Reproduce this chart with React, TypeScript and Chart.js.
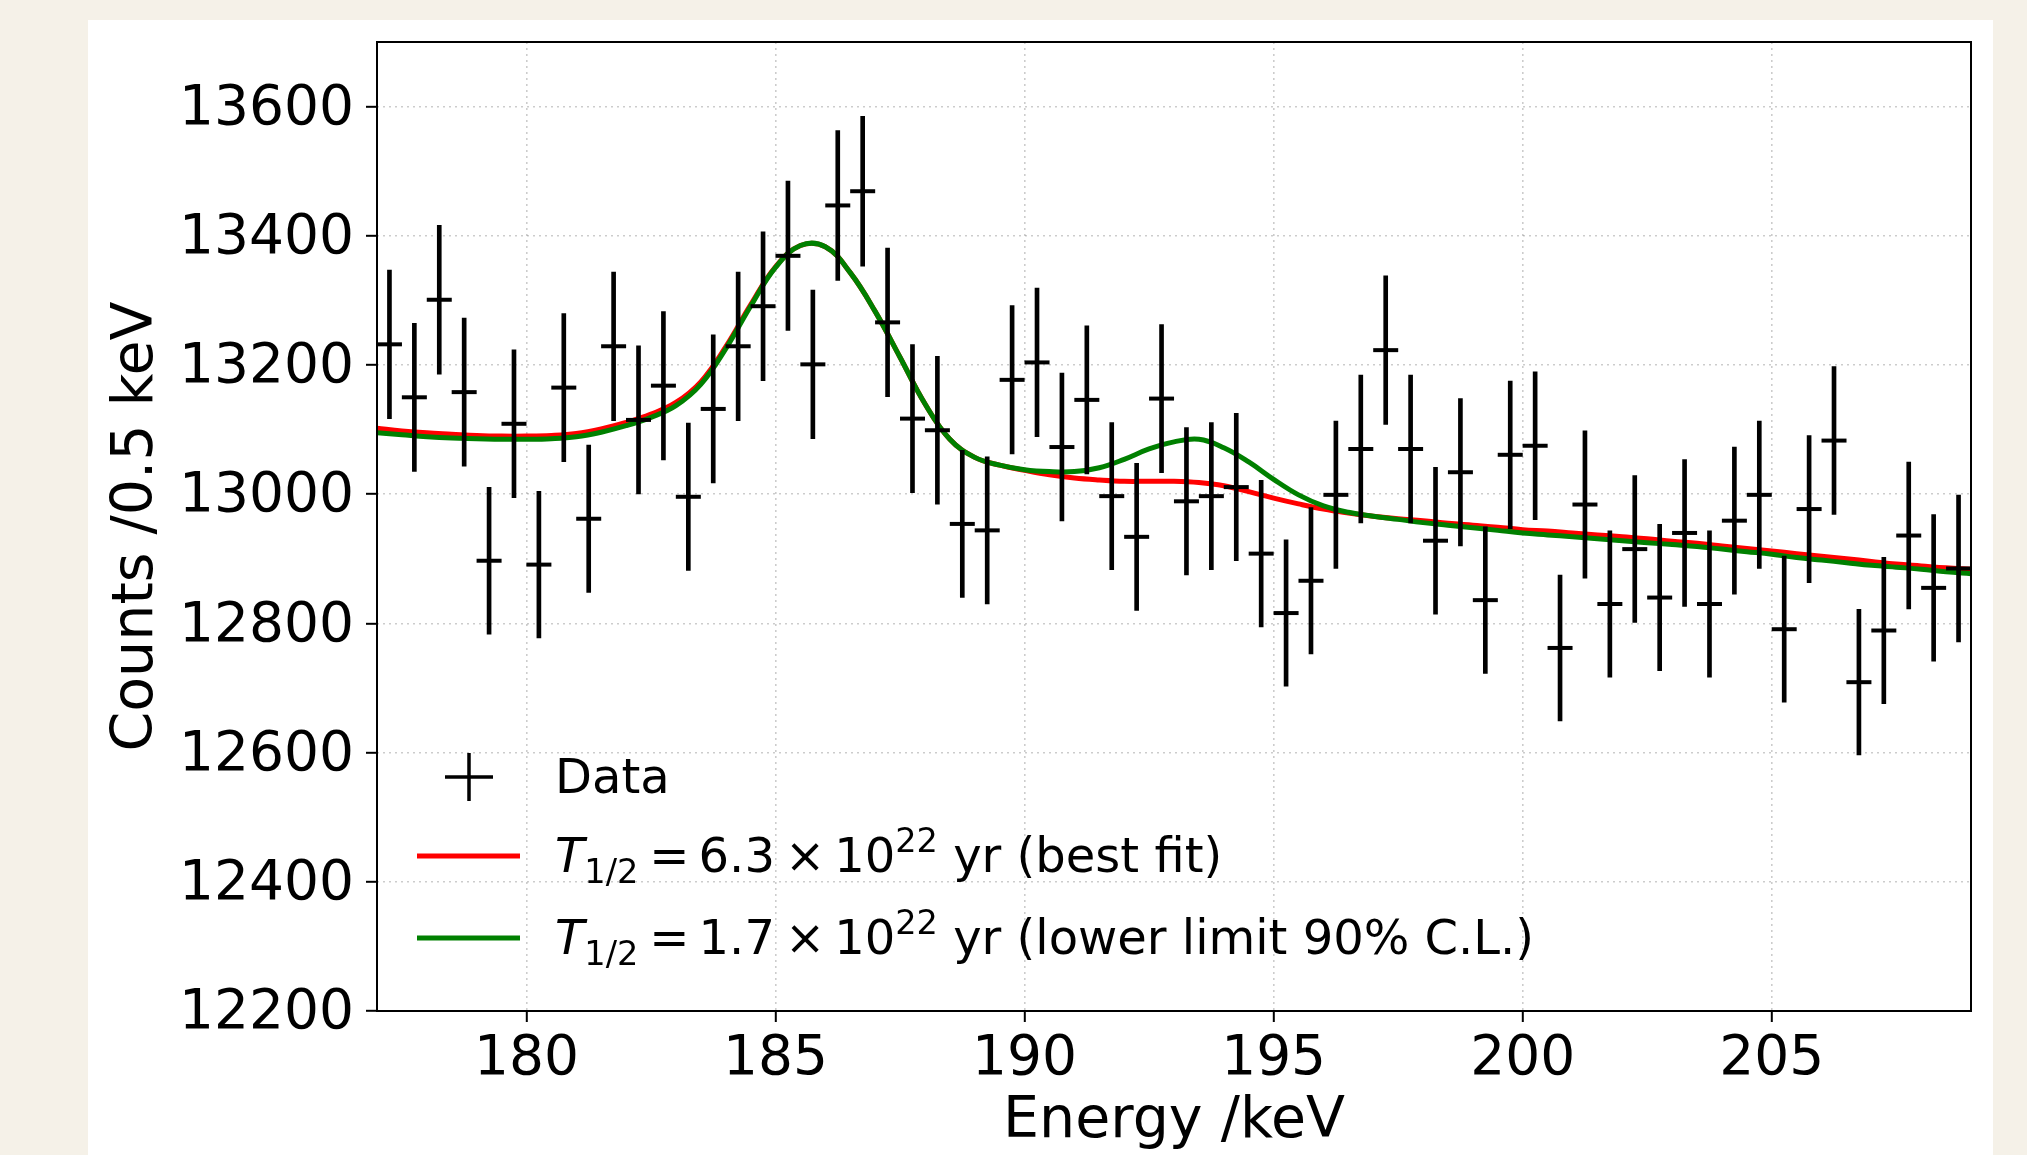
import React, { useEffect, useRef } from "react";
import { Chart, registerables } from "chart.js";

Chart.register(...registerables);

// ---------- data ----------
const binCenters = [
  177.25, 177.75, 178.25, 178.75, 179.25, 179.75, 180.25, 180.75, 181.25, 181.75,
  182.25, 182.75, 183.25, 183.75, 184.25, 184.75, 185.25, 185.75, 186.25, 186.75,
  187.25, 187.75, 188.25, 188.75, 189.25, 189.75, 190.25, 190.75, 191.25, 191.75,
  192.25, 192.75, 193.25, 193.75, 194.25, 194.75, 195.25, 195.75, 196.25, 196.75,
  197.25, 197.75, 198.25, 198.75, 199.25, 199.75, 200.25, 200.75, 201.25, 201.75,
  202.25, 202.75, 203.25, 203.75, 204.25, 204.75, 205.25, 205.75, 206.25, 206.75,
  207.25, 207.75, 208.25, 208.75,
];
const counts = [
  13232, 13150, 13301, 13158, 12897, 13109, 12891, 13165, 12962, 13229,
  13115, 13168, 12996, 13132, 13229, 13291, 13369, 13201, 13447, 13469,
  13266, 13117, 13099, 12954, 12944, 13177, 13204, 13073, 13146, 12997,
  12934, 13148, 12989, 12997, 13011, 12908, 12816, 12866, 12999, 13070,
  13223, 13070, 12928, 13034, 12836, 13061, 13075, 12762, 12984, 12830,
  12915, 12840, 12940, 12830, 12959, 12999, 12791, 12977, 13083, 12709,
  12789, 12936, 12855, 12885,
];
// Poisson uncertainty of each bin (√N)
const countErrors = counts.map((c) => Math.sqrt(c));

const fitEnergy = [
  177, 177.5, 178, 178.5, 179, 179.5, 180, 180.5, 181, 181.5,
  182, 182.5, 183, 183.5, 184, 184.5, 185, 185.5, 186, 186.5,
  187, 187.5, 188, 188.5, 189, 189.5, 190, 190.5, 191, 191.5,
  192, 192.5, 193, 193.5, 194, 194.5, 195, 195.5, 196, 196.5,
  197, 197.5, 198, 198.5, 199, 199.5, 200, 200.5, 201, 201.5,
  202, 202.5, 203, 203.5, 204, 204.5, 205, 205.5, 206, 206.5,
  207, 207.5, 208, 208.5, 209,
];
const fitBest = [
  13102, 13098, 13095, 13093, 13091, 13090, 13090, 13091, 13094, 13101,
  13111, 13124, 13142, 13174, 13228, 13293, 13352, 13385, 13383, 13343,
  13283, 13212, 13140, 13085, 13057, 13045, 13037, 13030, 13025, 13022,
  13020, 13020, 13020, 13018, 13013, 13004, 12994, 12985, 12977, 12971,
  12966, 12962, 12959, 12955, 12952, 12949, 12945, 12943, 12940, 12937,
  12934, 12931, 12927, 12924, 12920, 12916, 12912, 12908, 12904, 12900,
  12896, 12892, 12889, 12886, 12884,
];
const fitLimit = [
  13095, 13092, 13089, 13087, 13086, 13085, 13085, 13086, 13089, 13096,
  13106, 13119, 13137, 13170, 13225, 13291, 13351, 13385, 13383, 13343,
  13283, 13212, 13140, 13085, 13057, 13045, 13038, 13035, 13035, 13041,
  13054, 13070, 13081, 13085, 13072, 13050, 13023, 12999, 12982, 12972,
  12966, 12961, 12956, 12952, 12948, 12944, 12940, 12937, 12934, 12931,
  12928, 12925, 12922, 12919, 12915, 12911, 12907, 12902, 12898, 12894,
  12890, 12887, 12884, 12880, 12877,
];

const xTicks = [180, 185, 190, 195, 200, 205];
const yTicks = [12200, 12400, 12600, 12800, 13000, 13200, 13400, 13600];
const xRange = [177, 209];
const yRange = [12200, 13700];

const xTitle = "Energy /keV";
const yTitle = "Counts /0.5 keV";
const legendDataLabel = "Data";
const legendBest = { value: "6.3", exponent: "22", note: " yr (best fit)" };
const legendLimit = { value: "1.7", exponent: "22", note: " yr (lower limit 90% C.L.)" };

// ---------- styling ----------
const FAMILY = "'DejaVu Sans', sans-serif";
const RED = "#ff0000";
const GREEN = "#008000";

Chart.defaults.font.family = FAMILY;
Chart.defaults.color = "#000";

const framePlugin = {
  id: "frame",
  afterDatasetsDraw(chart: any) {
    const { ctx, chartArea } = chart;
    ctx.save();
    ctx.strokeStyle = "#000";
    ctx.lineWidth = 2;
    ctx.setLineDash([]);
    ctx.strokeRect(chartArea.left, chartArea.top, chartArea.right - chartArea.left, chartArea.bottom - chartArea.top);
    ctx.restore();
  },
};

function drawHalfLife(ctx: CanvasRenderingContext2D, x: number, baseline: number, entry: { value: string; exponent: string; note: string }) {
  const F = 48;
  const S = 33.6;
  let cx = x;
  ctx.font = `italic ${F}px ${FAMILY}`;
  ctx.fillText("T", cx, baseline);
  cx += ctx.measureText("T").width;
  ctx.font = `${S}px ${FAMILY}`;
  ctx.fillText("1/2", cx, baseline + 11);
  cx += ctx.measureText("1/2").width + 11;
  ctx.font = `${F}px ${FAMILY}`;
  ctx.fillText("=", cx, baseline);
  cx += ctx.measureText("=").width + 9;
  ctx.fillText(entry.value, cx, baseline);
  cx += ctx.measureText(entry.value).width + 10;
  ctx.fillText("\u00d7", cx, baseline);
  cx += ctx.measureText("\u00d7").width + 9;
  ctx.fillText("10", cx, baseline);
  cx += ctx.measureText("10").width;
  ctx.font = `${S}px ${FAMILY}`;
  ctx.fillText(entry.exponent, cx, baseline - 20);
  cx += ctx.measureText(entry.exponent).width;
  ctx.font = `${F}px ${FAMILY}`;
  ctx.fillText(entry.note, cx, baseline);
}

const legendPlugin = {
  id: "mplLegend",
  afterDraw(chart: any) {
    const { ctx, chartArea } = chart;
    const left = chartArea.left;
    const bottom = chartArea.bottom;
    const textX = left + 178;
    const rows = [bottom - 234, bottom - 155, bottom - 73];
    const textDy = 15.5;
    ctx.save();
    ctx.fillStyle = "#000";
    ctx.textAlign = "left";
    ctx.textBaseline = "alphabetic";
    ctx.setLineDash([]);
    // Data marker: error-bar cross
    const mx = left + 92;
    ctx.strokeStyle = "#000";
    ctx.lineWidth = 3.5;
    ctx.beginPath();
    ctx.moveTo(mx - 24, rows[0]);
    ctx.lineTo(mx + 24, rows[0]);
    ctx.moveTo(mx, rows[0] - 24);
    ctx.lineTo(mx, rows[0] + 24);
    ctx.stroke();
    ctx.font = `48px ${FAMILY}`;
    ctx.fillText(legendDataLabel, textX, rows[0] + textDy);
    // fit lines
    ctx.lineWidth = 5;
    ctx.strokeStyle = RED;
    ctx.beginPath();
    ctx.moveTo(left + 40, rows[1]);
    ctx.lineTo(left + 143, rows[1]);
    ctx.stroke();
    drawHalfLife(ctx, textX, rows[1] + textDy, legendBest);
    ctx.strokeStyle = GREEN;
    ctx.beginPath();
    ctx.moveTo(left + 40, rows[2]);
    ctx.lineTo(left + 143, rows[2]);
    ctx.stroke();
    drawHalfLife(ctx, textX, rows[2] + textDy, legendLimit);
    ctx.restore();
  },
};

const gridStyle = {
  display: true,
  drawOnChartArea: true,
  drawTicks: true,
  color: "rgba(0,0,0,0.2)",
  lineWidth: 1.6,
  tickLength: 11,
  tickColor: "#000",
  tickWidth: 2,
  tickBorderDash: [],
  offset: false,
};
const borderStyle = { display: false, dash: [2, 4], dashOffset: 0 };

export default function App() {
  const canvasRef = useRef<HTMLCanvasElement>(null);

  useEffect(() => {
    const canvas = canvasRef.current;
    if (!canvas) return;

    const errorBars = binCenters.map((x, i) => ({ x, y: [counts[i] - countErrors[i], counts[i] + countErrors[i]] }));
    const centers = binCenters.map((x, i) => ({ x, y: counts[i] }));
    const bestLine = fitEnergy.map((x, i) => ({ x, y: fitBest[i] }));
    const limitLine = fitEnergy.map((x, i) => ({ x, y: fitLimit[i] }));

    const chart = new Chart(canvas, {
      type: "line",
      data: {
        datasets: [
          {
            type: "line",
            label: "best fit",
            data: bestLine,
            borderColor: RED,
            borderWidth: 5,
            pointRadius: 0,
            fill: false,
            tension: 0.4,
            order: 3,
          } as any,
          {
            type: "line",
            label: "lower limit",
            data: limitLine,
            borderColor: GREEN,
            borderWidth: 5,
            pointRadius: 0,
            fill: false,
            tension: 0.4,
            order: 2,
          } as any,
          {
            type: "bar",
            label: "Data error",
            data: errorBars,
            backgroundColor: "#000",
            borderWidth: 0,
            barThickness: 4,
            order: 1,
          } as any,
          {
            type: "line",
            label: "Data",
            data: centers,
            showLine: false,
            pointStyle: "line",
            pointRadius: 12.5,
            pointBorderWidth: 4,
            pointBorderColor: "#000",
            pointBackgroundColor: "#000",
            order: 0,
          } as any,
        ],
      },
      options: {
        animation: false,
        responsive: false,
        devicePixelRatio: 1,
        events: [],
        layout: { padding: { left: 0, top: 42, right: 56, bottom: 0 }, autoPadding: false } as any,
        plugins: { legend: { display: false }, tooltip: { enabled: false } },
        scales: {
          x: {
            type: "linear",
            min: xRange[0],
            max: xRange[1],
            offset: false,
            afterBuildTicks: (scale: any) => {
              scale.ticks = xTicks.map((v) => ({ value: v }));
            },
            afterFit: (scale: any) => {
              scale.height = 144;
            },
            grid: gridStyle as any,
            border: borderStyle as any,
            ticks: {
              autoSkip: false,
              maxRotation: 0,
              padding: 4.5,
              color: "#000",
              font: { size: 55, family: FAMILY },
              callback: (v: any) => String(v),
            },
            title: {
              display: true,
              text: xTitle,
              color: "#000",
              font: { size: 57, family: FAMILY, lineHeight: 1 },
              padding: { top: 0, bottom: 4.5 },
            },
          },
          y: {
            type: "linear",
            min: yRange[0],
            max: yRange[1],
            afterBuildTicks: (scale: any) => {
              scale.ticks = yTicks.map((v) => ({ value: v }));
            },
            afterFit: (scale: any) => {
              scale.width = 377;
            },
            grid: gridStyle as any,
            border: borderStyle as any,
            ticks: {
              autoSkip: false,
              padding: 12,
              labelOffset: 3,
              color: "#000",
              font: { size: 55, family: FAMILY, lineHeight: 0.8 },
              callback: (v: any) => String(v),
            },
            title: {
              display: true,
              text: yTitle,
              color: "#000",
              font: { size: 57, family: FAMILY, lineHeight: 1 },
              padding: { top: 109, bottom: 0 },
            },
          },
        },
      } as any,
      plugins: [framePlugin, legendPlugin],
    });

    return () => chart.destroy();
  }, []);

  return (
    <div
      style={{
        position: "absolute",
        left: 0,
        top: 0,
        width: 2027,
        height: 1155,
        background: "#f5f1e8",
        overflow: "hidden",
      }}
    >
      <div style={{ position: "absolute", left: 88, top: 20, width: 1905, height: 1135, background: "#ffffff" }} />
      <canvas
        ref={canvasRef}
        width={2027}
        height={1155}
        style={{ position: "absolute", left: 0, top: 0, width: 2027, height: 1155 }}
      />
    </div>
  );
}
